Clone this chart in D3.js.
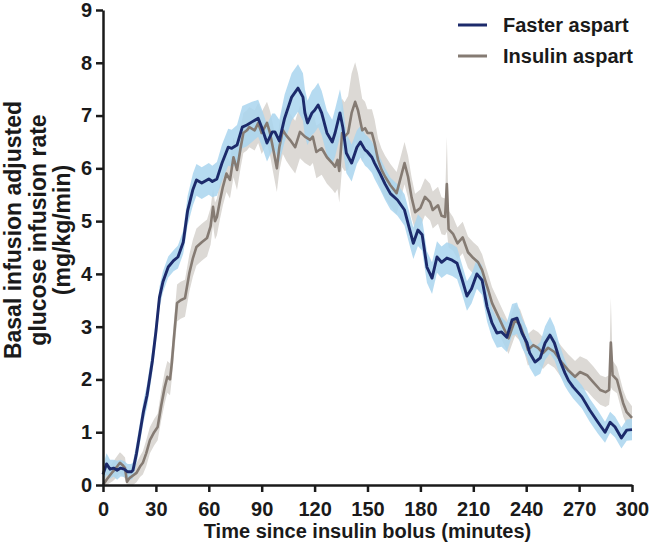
<!DOCTYPE html>
<html><head><meta charset="utf-8">
<script src="https://cdn.jsdelivr.net/npm/d3@7"></script>
<style>body{margin:0;background:#fff}svg{display:block}text{font-family:"Liberation Sans",Arial,sans-serif;font-weight:bold}</style>
</head><body><svg id="c" width="649" height="544"></svg>
<script>
const xTicks=[0,30,60,90,120,150,180,210,240,270,300];
const yTicks=[0,1,2,3,4,5,6,7,8,9];
const seriesNames=["Faster aspart","Insulin aspart"];
const fasterT=[0,2,4,6,8,10,12,14,16,17,19,21,23,25,28,30,32,34,37,40,42.5,45.5,48,51,53,56,60,62,64.6,67.5,71,73,76,79,81.6,84.5,88,90,93,96,97.5,100,103,107,110.6,113.4,114.5,116,118.5,120,122,124,127,130,131.6,134.4,136,138,141,144,146,148.6,150,152.5,154,157,160,163,167,171,174,176,178.6,181,183.7,186.6,189.4,192,195,198,200.8,203.6,206.4,209,212,215,217.8,220.6,223.4,226,229,232,234.8,237.6,240.5,242,245,248,250.7,253.5,256,259,262,264,266.6,271.6,276,280.7,284.7,287.6,290.4,294,297,300];
const fasterV=[0.2,0.4,0.3,0.32,0.28,0.32,0.3,0.25,0.25,0.28,0.6,1.0,1.4,1.7,2.35,2.9,3.55,3.85,4.13,4.25,4.32,4.6,5.2,5.6,5.78,5.72,5.8,5.75,5.8,6.1,6.4,6.38,6.44,6.78,6.82,6.88,6.95,6.78,6.48,6.69,6.69,6.52,6.95,7.35,7.52,7.35,7.05,6.86,7.05,7.1,7.2,7.05,6.67,6.5,6.67,7.05,6.78,6.29,6.1,6.4,6.5,6.35,6.31,6.21,6.1,5.91,5.7,5.52,5.4,5.21,4.83,4.58,4.83,4.74,4.13,3.92,4.32,4.22,4.3,4.26,4.2,3.9,3.58,3.72,4.0,3.88,3.38,3.07,2.88,2.9,2.8,3.13,3.16,2.88,2.69,2.5,2.33,2.41,2.69,2.84,2.69,2.37,2.12,1.98,1.86,1.67,1.42,1.19,1.0,1.19,1.1,0.89,1.04,1.05];
const fasterErr=[0.15,0.2,0.18,0.16,0.18,0.16,0.15,0.15,0.15,0.15,0.2,0.2,0.2,0.22,0.22,0.22,0.2,0.2,0.2,0.2,0.22,0.22,0.28,0.3,0.3,0.3,0.3,0.3,0.32,0.35,0.35,0.35,0.38,0.4,0.4,0.38,0.35,0.35,0.35,0.35,0.35,0.4,0.45,0.45,0.45,0.45,0.45,0.42,0.42,0.42,0.42,0.42,0.42,0.42,0.45,0.45,0.42,0.38,0.35,0.32,0.3,0.3,0.3,0.3,0.3,0.3,0.3,0.3,0.3,0.3,0.3,0.3,0.3,0.3,0.3,0.3,0.3,0.3,0.3,0.3,0.3,0.28,0.28,0.28,0.28,0.28,0.28,0.28,0.28,0.28,0.28,0.3,0.3,0.28,0.28,0.28,0.28,0.3,0.32,0.35,0.32,0.28,0.25,0.22,0.22,0.22,0.22,0.22,0.2,0.2,0.2,0.2,0.2,0.2];
const insulinT=[0,2,5.5,8,9.6,11,12.5,13.6,15,17,19,21,22.6,24.5,26.6,29,31,33,35,36.5,38,39,40,42,44,46.5,49,51,53,56,59,61,62.4,63.5,64.6,66.4,68,70,72,74,76,78,79.6,81.6,83,86,88,90,93,94.7,96.6,98.6,100,102,104,106,109,111.7,114.5,117.4,119,121,124,127,130,131.6,133,134,135.6,137,139,141,143,144.6,147,148.6,150,152.5,154,156,158,160,163,166.5,169.5,171,173,175,177,180,182.6,185.5,187,190,192,194,195,196,198.5,201,204,207,210,212.7,215,216.7,218.5,220.6,223,227,230,233.7,236.5,239,241,244,246.7,249.5,252.4,256,260,263.7,267.7,270.5,274.5,278,282,285,287,288,289,291.5,293,295,297,300];
const insulinV=[0.0,0.1,0.25,0.35,0.42,0.38,0.32,0.06,0.13,0.18,0.23,0.35,0.42,0.6,0.85,1.0,1.1,1.5,1.85,2.05,2.0,2.3,2.7,3.45,3.5,3.54,4.02,4.3,4.51,4.6,4.68,4.9,5.27,5.0,5.08,5.4,5.65,5.9,5.78,6.21,5.97,6.38,6.67,6.72,6.78,6.72,6.86,6.67,6.86,6.67,6.35,6.0,6.4,6.72,6.62,6.54,6.4,6.69,6.6,6.54,6.6,6.31,6.38,6.21,6.1,6.03,6.16,5.95,6.67,6.6,6.67,7.05,7.26,7.1,6.72,6.76,6.67,6.67,6.48,6.16,5.97,5.84,5.68,5.53,5.91,6.1,5.84,5.45,5.17,5.25,5.46,5.36,5.21,5.3,5.1,5.08,5.7,4.85,4.76,4.58,4.69,4.41,4.3,4.22,4.07,3.88,3.69,3.45,3.28,2.99,2.78,3.13,3.03,2.8,2.56,2.65,2.6,2.5,2.6,2.52,2.33,2.18,2.05,2.14,2.08,1.95,1.8,1.76,1.8,2.7,2.08,1.99,1.8,1.55,1.38,1.27];
const insulinErr=[0.12,0.15,0.18,0.2,0.2,0.2,0.2,0.18,0.18,0.18,0.18,0.2,0.22,0.25,0.25,0.25,0.25,0.28,0.3,0.3,0.3,0.3,0.32,0.35,0.35,0.35,0.35,0.35,0.35,0.35,0.35,0.35,0.35,0.35,0.35,0.35,0.35,0.35,0.35,0.38,0.38,0.38,0.38,0.38,0.38,0.38,0.38,0.4,0.4,0.42,0.45,0.45,0.45,0.45,0.48,0.5,0.5,0.5,0.5,0.5,0.5,0.5,0.5,0.5,0.5,0.5,0.55,0.6,0.65,0.65,0.7,0.75,0.75,0.7,0.6,0.5,0.45,0.45,0.45,0.4,0.4,0.4,0.4,0.4,0.4,0.4,0.4,0.38,0.35,0.35,0.35,0.35,0.35,0.35,0.35,0.35,0.9,0.35,0.32,0.3,0.3,0.3,0.3,0.3,0.3,0.3,0.3,0.3,0.3,0.3,0.3,0.3,0.3,0.3,0.3,0.3,0.3,0.3,0.3,0.3,0.3,0.3,0.3,0.3,0.3,0.3,0.28,0.28,0.28,0.85,0.28,0.25,0.25,0.25,0.25,0.22];

const W=649,H=544,m={l:103,t:10,r:17,b:59};
const svg=d3.select("#c");
const x=d3.scaleLinear().domain([0,300]).range([m.l,W-m.r]);
const y=d3.scaleLinear().domain([0,9]).range([H-m.b,m.t]);
const fD=fasterT.map((t,i)=>({t,v:fasterV[i],e:fasterErr[i]}));
const iD=insulinT.map((t,i)=>({t,v:insulinV[i],e:insulinErr[i]}));
const area=d3.area().x(d=>x(d.t)).y0(d=>y(Math.max(0,d.v-d.e))).y1(d=>y(d.v+d.e));
const line=d3.line().x(d=>x(d.t)).y(d=>y(d.v));
const cols={fLine:"#1c2a6b",fBand:"#a9d5ee",iLine:"#857b73",iBand:"#dcd9d5"};
svg.append("path").datum(iD).attr("d",area).attr("fill",cols.iBand);
svg.append("path").datum(fD).attr("d",area).attr("fill",cols.fBand).attr("opacity",0.85);
svg.append("path").datum(iD).attr("d",line).attr("fill","none").attr("stroke",cols.iLine).attr("stroke-width",2.6).attr("stroke-linejoin","round");
svg.append("path").datum(fD).attr("d",line).attr("fill","none").attr("stroke",cols.fLine).attr("stroke-width",2.9).attr("stroke-linejoin","round");

const gx=svg.append("g").attr("transform",`translate(0,${H-m.b})`).call(d3.axisBottom(x).tickValues(xTicks).tickSize(7).tickSizeOuter(0).tickPadding(10));
const gy=svg.append("g").attr("transform",`translate(${m.l},0)`).call(d3.axisLeft(y).tickValues(yTicks).tickSize(7).tickSizeOuter(0).tickPadding(4));
[gx,gy].forEach(g=>{g.select(".domain").attr("stroke","#1a1a1a").attr("stroke-width",2.5);
 g.selectAll(".tick line").attr("stroke","#1a1a1a").attr("stroke-width",2.5);
 g.selectAll(".tick text").attr("fill","#1a1a1a").style("font-size","20px").style("font-family","'Liberation Sans',Arial,sans-serif").style("font-weight","bold");});

svg.append("text").attr("x",(m.l+W-m.r)/2).attr("y",538).attr("text-anchor","middle").attr("fill","#1a1a1a").style("font-size","20px").text("Time since insulin bolus (minutes)");
const yt=["Basal infusion adjusted","glucose infusion rate","(mg/kg/min)"];
yt.forEach((s,i)=>svg.append("text").attr("transform",`translate(${21+i*24.5},230) rotate(-90)`).attr("text-anchor","middle").attr("fill","#1a1a1a").style("font-size","23px").text(s));

const lg=[{n:seriesNames[0],c:cols.fLine},{n:seriesNames[1],c:cols.iLine}];
lg.forEach((d,i)=>{const yy=25+i*31;
 svg.append("line").attr("x1",458).attr("x2",487).attr("y1",yy).attr("y2",yy).attr("stroke",d.c).attr("stroke-width",3);
 svg.append("text").attr("x",503).attr("y",yy+7).attr("fill","#1a1a1a").style("font-size","20px").text(d.n);});
</script></body></html>
